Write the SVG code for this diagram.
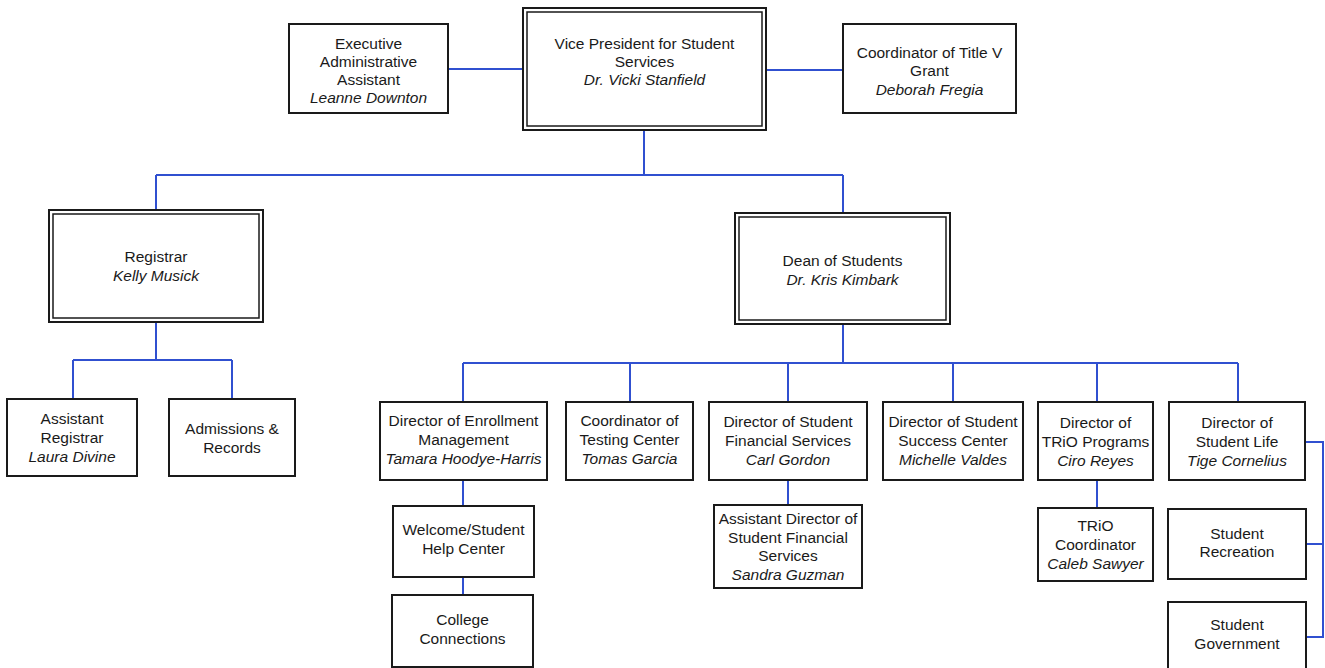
<svg xmlns="http://www.w3.org/2000/svg" width="1325" height="668" viewBox="0 0 1325 668">
<style>
.bx{fill:#fff;stroke:#1a1a1a;stroke-width:2}
.in{fill:none;stroke:#1a1a1a;stroke-width:1.5}
.t{font-family:"Liberation Sans",Arial,sans-serif;font-size:15.5px;fill:#1a1a1a;text-anchor:middle}
.i{font-style:italic}
.c{fill:none;stroke:#3050d0;stroke-width:2}
</style>
<rect width="1325" height="668" fill="#fff"/>
<g id="connectors">
<path class="c" d="M448 69H523M766 70H843"/>
<path class="c" d="M644 130V175M156 175H843M156 175V210M843 175V213"/>
<path class="c" d="M156 322V360M73 360H232M73 360V399M232 360V399"/>
<path class="c" d="M843 324V363M463 363H1238M463 363V402M630 363V402M788 363V402M953 363V402M1097 363V402M1238 363V402"/>
<path class="c" d="M463 480V506M463 577V595M788 480V505M1097 480V508"/>
<path class="c" d="M1305 442H1323V637H1306M1306 544H1323"/>
</g>
<g id="exec">
<rect class="bx" x="289" y="24" width="159" height="89"/>
<text class="t" x="368.5" y="48.5">Executive</text>
<text class="t" x="368.5" y="66.5">Administrative</text>
<text class="t" x="368.5" y="84.5">Assistant</text>
<text class="t i" x="368.5" y="102.5">Leanne Downton</text>
</g>
<g id="vp">
<rect class="bx" x="523" y="8" width="243" height="122"/>
<rect class="in" x="527" y="12" width="235" height="114"/>
<text class="t" x="644.5" y="48.5">Vice President for Student</text>
<text class="t" x="644.5" y="66.5">Services</text>
<text class="t i" x="644.5" y="85">Dr. Vicki Stanfield</text>
</g>
<g id="titlev">
<rect class="bx" x="843" y="24" width="173" height="89"/>
<text class="t" x="929.5" y="57.5">Coordinator of Title V</text>
<text class="t" x="929.5" y="75.5">Grant</text>
<text class="t i" x="929.5" y="94.5">Deborah Fregia</text>
</g>
<g id="registrar">
<rect class="bx" x="49" y="210" width="214" height="112"/>
<rect class="in" x="53" y="214" width="206" height="104"/>
<text class="t" x="156" y="261.5">Registrar</text>
<text class="t i" x="156" y="280.5">Kelly Musick</text>
</g>
<g id="dean">
<rect class="bx" x="735" y="213" width="215" height="111"/>
<rect class="in" x="739" y="217" width="207" height="103"/>
<text class="t" x="842.5" y="265.5">Dean of Students</text>
<text class="t i" x="842.5" y="284.5">Dr. Kris Kimbark</text>
</g>
<g id="asstreg">
<rect class="bx" x="7" y="399" width="130" height="77"/>
<text class="t" x="72" y="423.5">Assistant</text>
<text class="t" x="72" y="443">Registrar</text>
<text class="t i" x="72" y="461.5">Laura Divine</text>
</g>
<g id="admissions">
<rect class="bx" x="169" y="399" width="126" height="77"/>
<text class="t" x="232" y="433.5">Admissions &amp;</text>
<text class="t" x="232" y="452.5">Records</text>
</g>
<g id="enrollment">
<rect class="bx" x="380" y="402" width="167" height="78"/>
<text class="t" x="463.5" y="425.5">Director of Enrollment</text>
<text class="t" x="463.5" y="445">Management</text>
<text class="t i" x="463.5" y="464">Tamara Hoodye-Harris</text>
</g>
<g id="testing">
<rect class="bx" x="566" y="402" width="127" height="78"/>
<text class="t" x="629.5" y="425.5">Coordinator of</text>
<text class="t" x="629.5" y="445">Testing Center</text>
<text class="t i" x="629.5" y="464">Tomas Garcia</text>
</g>
<g id="finance">
<rect class="bx" x="709" y="402" width="158" height="78"/>
<text class="t" x="788" y="427">Director of Student</text>
<text class="t" x="788" y="446">Financial Services</text>
<text class="t i" x="788" y="465">Carl Gordon</text>
</g>
<g id="success">
<rect class="bx" x="883" y="402" width="140" height="78"/>
<text class="t" x="953" y="427">Director of Student</text>
<text class="t" x="953" y="446">Success Center</text>
<text class="t i" x="953" y="465">Michelle Valdes</text>
</g>
<g id="trio">
<rect class="bx" x="1038" y="402" width="115" height="78"/>
<text class="t" x="1095.5" y="428">Director of</text>
<text class="t" x="1095.5" y="447">TRiO Programs</text>
<text class="t i" x="1095.5" y="466">Ciro Reyes</text>
</g>
<g id="studentlife">
<rect class="bx" x="1169" y="402" width="136" height="78"/>
<text class="t" x="1237" y="428">Director of</text>
<text class="t" x="1237" y="447">Student Life</text>
<text class="t i" x="1237" y="466">Tige Cornelius</text>
</g>
<g id="welcome">
<rect class="bx" x="393" y="506" width="141" height="71"/>
<text class="t" x="463.5" y="534.5">Welcome/Student</text>
<text class="t" x="463.5" y="553.5">Help Center</text>
</g>
<g id="college">
<rect class="bx" x="392" y="595" width="141" height="72"/>
<text class="t" x="462.5" y="624.5">College</text>
<text class="t" x="462.5" y="643.5">Connections</text>
</g>
<g id="asstfin">
<rect class="bx" x="714" y="505" width="148" height="83"/>
<text class="t" x="788" y="523.5">Assistant Director of</text>
<text class="t" x="788" y="542.5">Student Financial</text>
<text class="t" x="788" y="561">Services</text>
<text class="t i" x="788" y="579.5">Sandra Guzman</text>
</g>
<g id="triocoord">
<rect class="bx" x="1038" y="508" width="115" height="73"/>
<text class="t" x="1095.5" y="530.5">TRiO</text>
<text class="t" x="1095.5" y="549.5">Coordinator</text>
<text class="t i" x="1095.5" y="568.5">Caleb Sawyer</text>
</g>
<g id="recreation">
<rect class="bx" x="1168" y="509" width="138" height="70"/>
<text class="t" x="1237" y="538.5">Student</text>
<text class="t" x="1237" y="556.5">Recreation</text>
</g>
<g id="government">
<rect class="bx" x="1168" y="602" width="138" height="70"/>
<text class="t" x="1237" y="629.5">Student</text>
<text class="t" x="1237" y="648.5">Government</text>
</g>
</svg>
